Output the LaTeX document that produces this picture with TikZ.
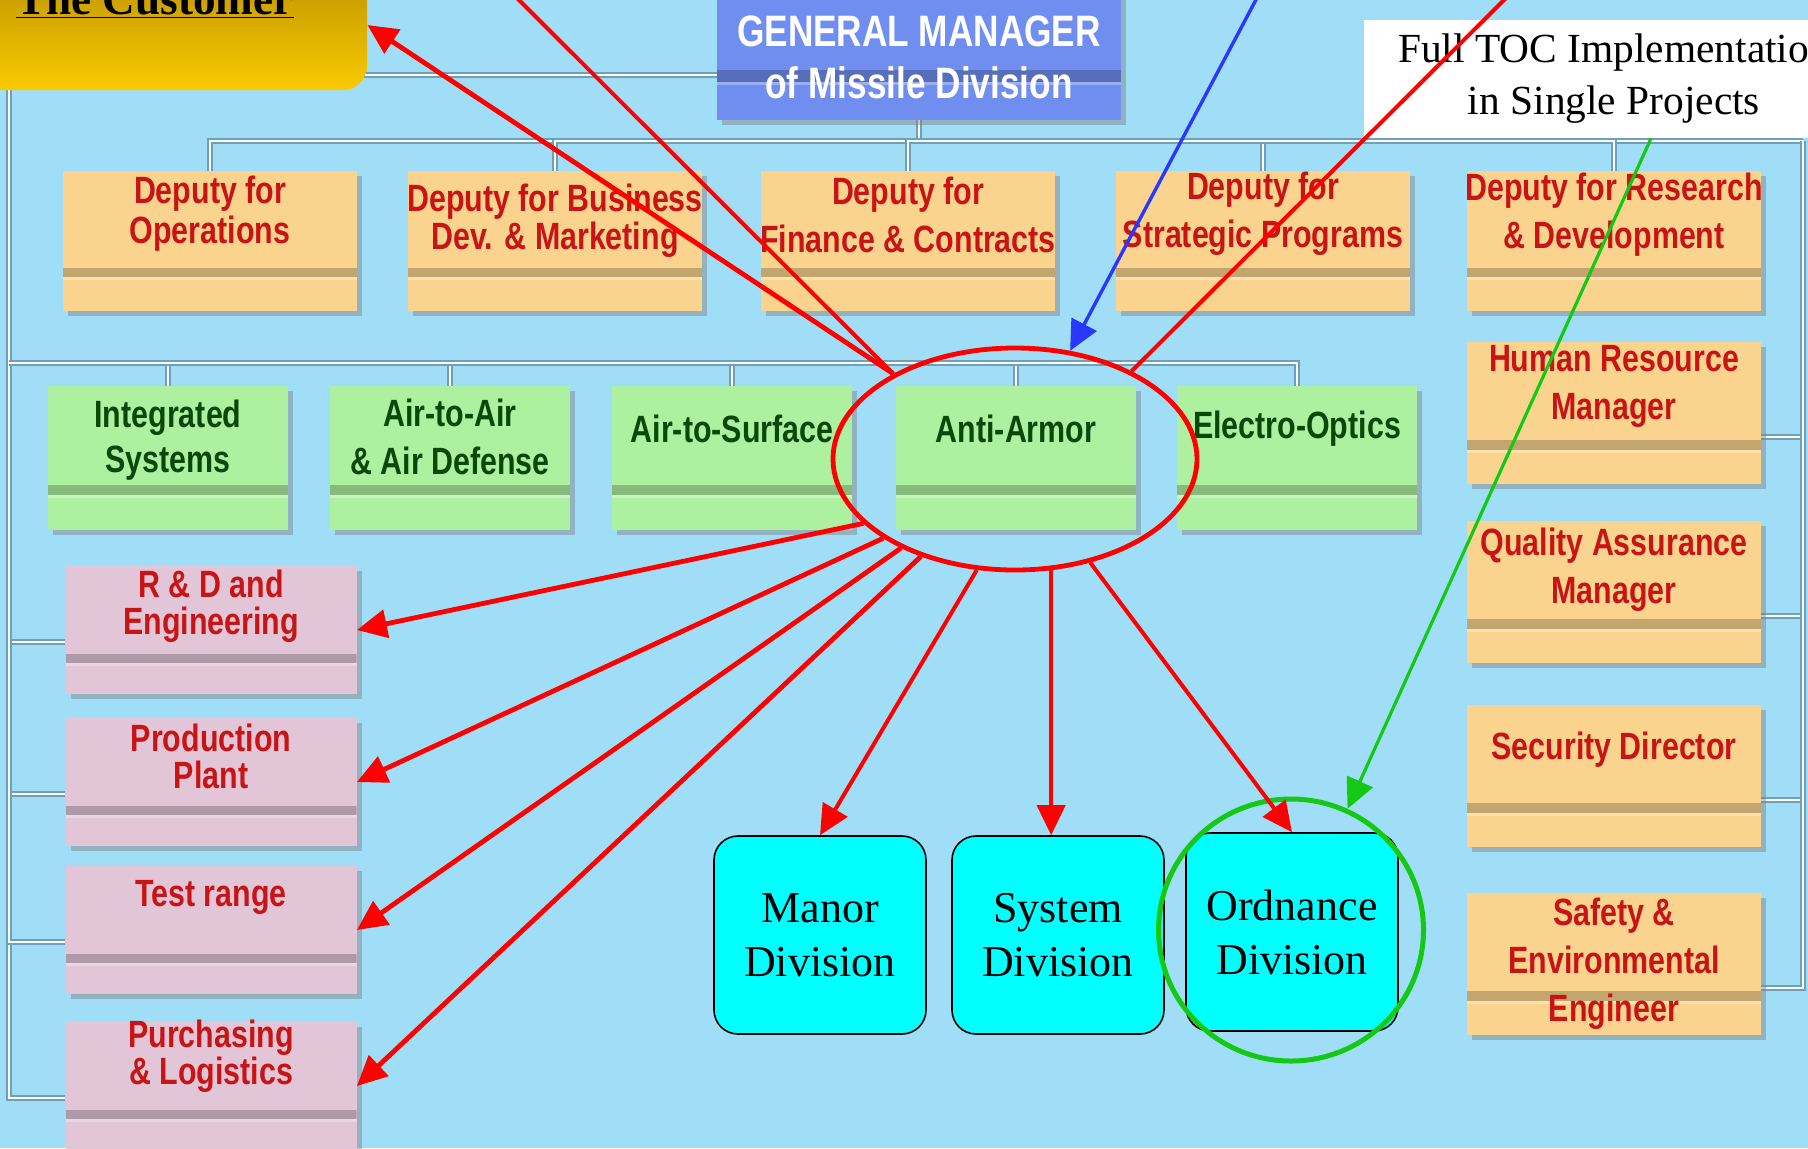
\documentclass[tikz,border=0pt]{standalone}
\usepackage{fontspec}
\setmainfont{Liberation Serif}
\newfontfamily\orgfont[FakeStretch=0.8]{Liberation Sans}
\usetikzlibrary{arrows.meta,calc,shapes.geometric,shadows,backgrounds}

\definecolor{sky}{RGB}{160,222,248}
\definecolor{deputyfill}{RGB}{250,212,142}
\definecolor{divfill}{RGB}{172,240,160}
\definecolor{plantfill}{RGB}{226,198,216}
\definecolor{gmfill}{RGB}{112,142,240}
\definecolor{unitfill}{RGB}{0,255,255}
\definecolor{gold}{RGB}{250,202,0}
\definecolor{darkgold}{RGB}{185,145,0}
\definecolor{redtext}{RGB}{200,20,20}
\definecolor{greentext}{RGB}{10,72,10}
\definecolor{wireshade}{RGB}{110,160,185}
\definecolor{arrowred}{RGB}{255,0,0}
\definecolor{arrowblue}{RGB}{40,56,255}
\definecolor{ringgreen}{RGB}{20,200,20}

\begin{document}
\begin{tikzpicture}[x=0.5pt,y=-0.5pt]
   \tikzstyle{band}=[path picture={\fill[black,opacity=.22] ($(path picture bounding box.south west)!.24!(path picture bounding box.north west)$) rectangle ($(path picture bounding box.south east)!.31!(path picture bounding box.north east)$); \fill[white,opacity=.3] ($(path picture bounding box.south west)!.22!(path picture bounding box.north west)$) rectangle ($(path picture bounding box.south east)!.24!(path picture bounding box.north east)$);}]
   \tikzstyle{box}=[rectangle, inner sep=0pt, band, drop shadow={shadow xshift=2.5pt, shadow yshift=-2.5pt, opacity=.45}]
   \tikzstyle{deputy}=[box, fill=deputyfill, minimum width=147pt, minimum height=70pt]
   \tikzstyle{staff}=[deputy, minimum height=71pt]
   \tikzstyle{division}=[box, fill=divfill, minimum width=120pt, minimum height=72pt]
   \tikzstyle{plant}=[box, fill=plantfill, minimum width=145.5pt, minimum height=64pt]
   \tikzstyle{redlbl}=[text=redtext, align=center, inner sep=0pt, font=\orgfont\bfseries\fontsize{19}{24}\selectfont]
   \tikzstyle{greenlbl}=[redlbl, text=greentext]
   \tikzstyle{unit}=[draw=black, line width=.8pt, fill=unitfill, rounded corners=12pt, minimum width=106pt, minimum height=99pt, align=center, font=\fontsize{22}{27}\selectfont]
   \tikzstyle{wire}=[draw=white, line width=1.3pt, preaction={draw=wireshade, line width=3pt}]
   \tikzstyle{hit}=[-{Triangle[length=15pt,width=14pt]}, draw=arrowred, line width=2.4pt]
   \tikzstyle{drop}=[hit, line width=2pt]
   \tikzstyle{trail}=[draw=arrowred, line width=2pt]

\useasboundingbox (0,0) rectangle (1808,1148);

% customer and general manager
\node[rounded corners=12pt, top color=darkgold, bottom color=gold, minimum width=198.5pt, minimum height=65pt] (cust) at (168.5,25) {};
\node[anchor=base, font=\bfseries\fontsize{22.6}{26}\selectfont] (cust-t) at (155,14) {\underline{The Customer}};
\node[box, fill=gmfill, minimum width=202pt, minimum height=80pt] (gm) at (919,40) {};
\node[text=white, align=center, font=\orgfont\bfseries\fontsize{22}{26}\selectfont] (gm-t) at (919,57) {GENERAL MANAGER\\of Missile Division};

% deputies
\node[deputy] (ops) at (210,241) {};
\node[deputy] (biz) at (555,241) {};
\node[deputy] (fin) at (908,241) {};
\node[deputy] (strat) at (1263,241) {};
\node[deputy] (rnd) at (1614,241) {};
\node[redlbl] (ops-t) at ($(ops.center)+(0,-27)$) {Deputy for\\[-4pt]Operations};
\node[redlbl] (biz-t) at ($(biz.center)+(0,-20)$) {Deputy for Business\\[-5pt]Dev. \& Marketing};
\node[redlbl] (fin-t) at ($(fin.center)+(0,-26)$) {Deputy for\\Finance \& Contracts};
\node[redlbl] (strat-t) at ($(strat.center)+(0,-27)$) {Deputy for\\Strategic Programs};
\node[redlbl] (rnd-t) at ($(rnd.center)+(0,-26)$) {Deputy for Research\\\& Development};

% staff
\node[staff] (hr) at (1614,413) {};
\node[staff] (qa) at (1614,592) {};
\node[staff] (sec) at (1614,776) {};
\node[staff] (safe) at (1614,964) {};
\node[redlbl] (hr-t) at ($(hr.center)+(0,-27)$) {Human Resource\\Manager};
\node[redlbl] (qa-t) at ($(qa.center)+(0,-22)$) {Quality Assurance\\Manager};
\node[redlbl] (sec-t) at ($(sec.center)+(0,-26)$) {Security Director};
\node[redlbl] (safe-t) at ($(safe.center)+(0,0)$) {Safety \&\\Environmental\\Engineer};

% product divisions
\node[division] (integ) at (168,458) {};
\node[division] (a2a) at (450,458) {};
\node[division] (a2s) at (732,458) {};
\node[division] (anti) at (1016,458) {};
\node[division] (eo) at (1297,458) {};
\node[greenlbl] (integ-t) at ($(integ.center)+(0,-18)$) {Integrated\\[-1.5pt]Systems};
\node[greenlbl] (a2a-t) at ($(a2a.center)+(0,-21)$) {Air-to-Air\\\& Air Defense};
\node[greenlbl] (a2s-t) at ($(a2s.center)+(0,-29)$) {Air-to-Surface};
\node[greenlbl] (anti-t) at ($(anti.center)+(0,-29)$) {Anti-Armor};
\node[greenlbl] (eo-t) at ($(eo.center)+(0,-29)$) {Electro-Optics};

% plants
\node[plant] (rd) at (211,630) {};
\node[plant] (prod) at (211,782) {};
\node[plant] (test) at (211,930) {};
\node[plant] (purch) at (211,1086) {};
\node[redlbl] (rd-t) at ($(rd.center)+(0,-23.5)$) {R \& D and\\[-5.5pt]Engineering};
\node[redlbl] (prod-t) at ($(prod.center)+(0,-26)$) {Production\\[-5.5pt]Plant};
\node[redlbl] (test-t) at ($(test.center)+(0,-33)$) {Test range};
\node[redlbl] (purch-t) at ($(purch.center)+(0,-30)$) {Purchasing\\[-5.5pt]\& Logistics};

% single projects
\node[unit] (manor) at (820,935) {Manor\\Division};
\node[unit] (system) at (1058,935) {System\\Division};
\node[unit] (ordn) at (1292,932) {Ordnance\\Division};
\node[fill=white, minimum width=250pt, minimum height=59pt, inner sep=0pt, align=center, font=\fontsize{20.7}{26}\selectfont] (toc) at (1614,79) {Full TOC Implementation\\in Single Projects};

% org chart lines
\coordinate (railL) at (9,75);
\coordinate (busA) at (919,141);
\coordinate (railR) at (1803,141);
\coordinate (busB) at (9,363);
\begin{scope}[on background layer]
   \fill[sky] (0,0) rectangle (1808,1148);
   \draw[wire] (gm.west |- railL) -- (railL) |- ([yshift=-6pt]purch.west);
   \foreach \n in {rd,prod,test} \draw[wire] ([yshift=-6pt]\n.west) -| (railL);
   \draw[wire] (gm.south) -- (busA) -- (railR);
   \foreach \n in {ops,biz,fin,strat,rnd} \draw[wire] (\n.north) |- (busA);
   \foreach \n in {hr,qa,sec,safe} \draw[wire] ([yshift=-12pt]\n.east) -| (railR);
   \foreach \n in {integ,a2a,a2s,anti,eo} \draw[wire] (\n.north) |- (busB);
\end{scope}

% highlights
\node[ellipse, draw=arrowred, line width=2.4pt, minimum width=182pt, minimum height=111pt, inner sep=0pt] (focus) at (1015,459) {};
\node[ellipse, draw=ringgreen, line width=2.5pt, minimum width=132.5pt, minimum height=131pt, inner sep=0pt] (ring) at (1291,930) {};

\coordinate (offTL) at (513,-6);
\coordinate (offTR) at (1510,-6);
\coordinate (offBlue) at (1259,-6);

\draw[hit] (focus.145) -- (cust.east);
\draw[trail] (focus.145) -- (offTL);
\draw[trail] (focus.37) -- (offTR);
\draw[-{Triangle[length=15pt,width=14pt]}, draw=arrowblue, line width=1.7pt] (offBlue) -- (focus.63);
\draw[hit] (focus.203) -- (rd.east);
\draw[hit] (focus.211) -- (prod.east);
\draw[hit] (focus.218) -- (test.east);
\draw[hit] (focus.226) -- (purch.east);
\draw[drop] (focus.251) -- (manor.north);
\draw[drop] (focus.288) -- (focus.288 |- system.north);
\draw[drop] (focus.306) -- (ordn.north);
\draw[-{Triangle[length=15pt,width=14pt]}, draw=ringgreen, line width=1.6pt] ([xshift=18.5pt]toc.south) -- (ring.65);

\end{tikzpicture}
\end{document}
